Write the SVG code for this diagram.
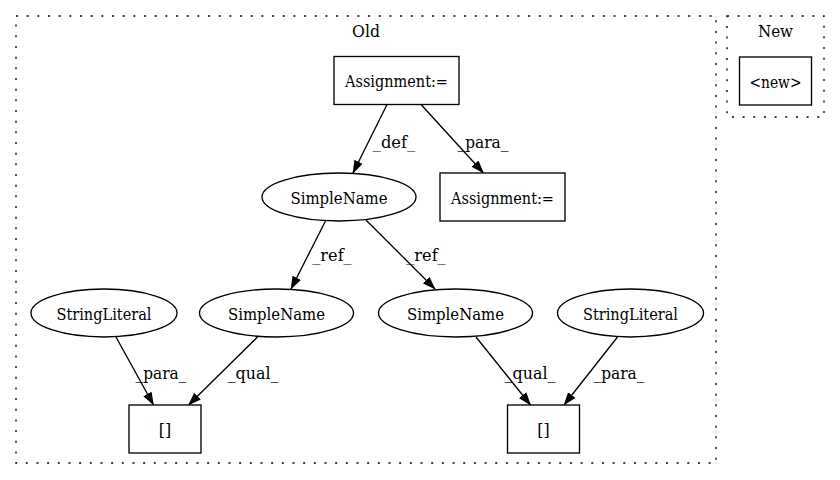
<svg xmlns="http://www.w3.org/2000/svg" width="840" height="480" viewBox="0 0 840 480">
<defs>
<style>
text{font-family:'DejaVu Serif',serif;font-stretch:condensed;font-size:17px;fill:#000;text-anchor:middle}
.cl{fill:none;stroke:#000;stroke-width:1.33;stroke-dasharray:2,8.67}
.n{fill:#fff;stroke:#000;stroke-width:1.33}
.e{fill:none;stroke:#000;stroke-width:1.33;marker-end:url(#arr)}
</style>
<marker id="arr" viewBox="0 0 13.3 9.4" refX="12.6" refY="4.7" markerWidth="13.3" markerHeight="9.4" markerUnits="userSpaceOnUse" orient="auto">
<path d="M0,0 L13.3,4.7 L0,9.4 z" fill="#000"/>
</marker>
</defs>
<rect width="840" height="480" fill="#fff"/>
<g id="cluster_old">
<rect class="cl" x="16" y="16" width="700" height="447"/>
<text x="366" y="37" textLength="28" lengthAdjust="spacingAndGlyphs">Old</text>
</g>
<g id="cluster_new">
<rect class="cl" x="727" y="16" width="97" height="101"/>
<text x="775.5" y="37" textLength="35" lengthAdjust="spacingAndGlyphs">New</text>
</g>
<g id="edges">
<path class="e" d="M387,104.5 L353,173"/>
<text x="394" y="148" textLength="42.5" lengthAdjust="spacingAndGlyphs">_def_</text>
<path class="e" d="M421,104.5 L483.5,173"/>
<text x="483" y="148" textLength="50.8" lengthAdjust="spacingAndGlyphs">_para_</text>
<path class="e" d="M326,220 L291,289"/>
<text x="332" y="261" textLength="39.4" lengthAdjust="spacingAndGlyphs">_ref_</text>
<path class="e" d="M366,220 L435,289"/>
<text x="426" y="261" textLength="39.4" lengthAdjust="spacingAndGlyphs">_ref_</text>
<path class="e" d="M116,337 L153.5,405"/>
<text x="161" y="379" textLength="50.8" lengthAdjust="spacingAndGlyphs">_para_</text>
<path class="e" d="M257.5,337 L188.5,405"/>
<text x="253" y="379" textLength="50.8" lengthAdjust="spacingAndGlyphs">_qual_</text>
<path class="e" d="M476,337 L530.5,405"/>
<text x="530" y="379" textLength="50.8" lengthAdjust="spacingAndGlyphs">_qual_</text>
<path class="e" d="M617.5,337 L564,405"/>
<text x="619" y="379" textLength="50.8" lengthAdjust="spacingAndGlyphs">_para_</text>
</g>
<g id="n_assign_top">
<rect class="n" x="334" y="56.5" width="125" height="48"/>
<text x="396.5" y="87" textLength="103" lengthAdjust="spacingAndGlyphs">Assignment:=</text>
</g>
<g id="n_simplename_top">
<ellipse class="n" cx="339" cy="197" rx="77" ry="24"/>
<text x="339" y="203.5" textLength="97" lengthAdjust="spacingAndGlyphs">SimpleName</text>
</g>
<g id="n_assign_2">
<rect class="n" x="440" y="173" width="125" height="48"/>
<text x="502.5" y="203.5" textLength="103" lengthAdjust="spacingAndGlyphs">Assignment:=</text>
</g>
<g id="n_stringlit_left">
<ellipse class="n" cx="104" cy="313" rx="73" ry="24"/>
<text x="104" y="319.5" textLength="95" lengthAdjust="spacingAndGlyphs">StringLiteral</text>
</g>
<g id="n_simplename_left">
<ellipse class="n" cx="276.5" cy="313" rx="77" ry="24"/>
<text x="276.5" y="319.5" textLength="97" lengthAdjust="spacingAndGlyphs">SimpleName</text>
</g>
<g id="n_simplename_right">
<ellipse class="n" cx="455.5" cy="313" rx="77" ry="24"/>
<text x="455.5" y="319.5" textLength="97" lengthAdjust="spacingAndGlyphs">SimpleName</text>
</g>
<g id="n_stringlit_right">
<ellipse class="n" cx="630.5" cy="313" rx="73" ry="24"/>
<text x="630.5" y="319.5" textLength="95" lengthAdjust="spacingAndGlyphs">StringLiteral</text>
</g>
<g id="n_index_left">
<rect class="n" x="129" y="405" width="72" height="48"/>
<text x="165" y="435.5" textLength="12.4" lengthAdjust="spacingAndGlyphs">[]</text>
</g>
<g id="n_index_right">
<rect class="n" x="507.5" y="405" width="72" height="48"/>
<text x="543.5" y="435.5" textLength="12.4" lengthAdjust="spacingAndGlyphs">[]</text>
</g>
<g id="n_new">
<rect class="n" x="739.5" y="57" width="72" height="48"/>
<text x="775.5" y="87.5" textLength="52" lengthAdjust="spacingAndGlyphs">&lt;new&gt;</text>
</g>
</svg>
